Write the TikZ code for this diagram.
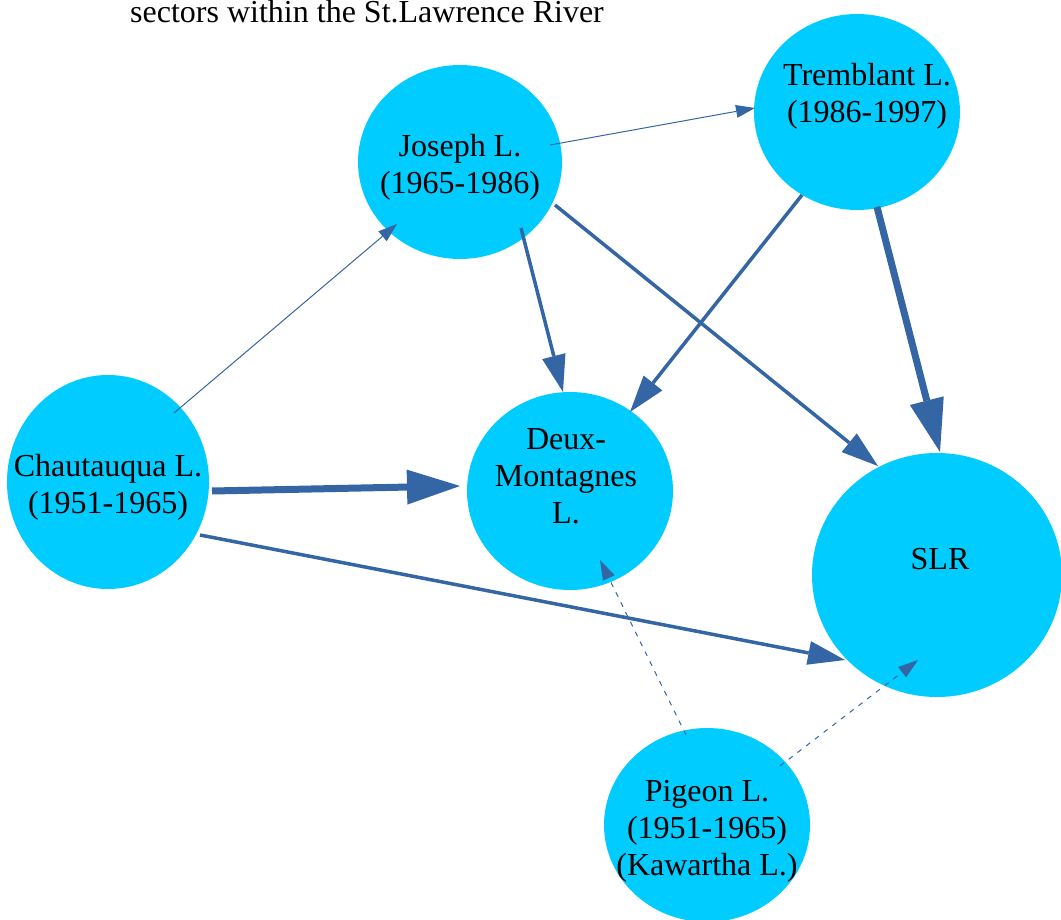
\documentclass[tikz,border=0pt]{standalone}
\usepackage{fontspec}
\setmainfont{Liberation Serif}
\usetikzlibrary{arrows.meta,calc,shapes.geometric}
\definecolor{bubblecol}{HTML}{00CCFF}
\definecolor{arrowblue}{HTML}{3465A4}
\begin{document}
\begin{tikzpicture}[x=1pt,y=-1pt,
  bubble/.style={ellipse, fill=bubblecol, draw=none, inner sep=0pt},
  lbl/.style={font=\fontsize{32}{37}\selectfont, align=center, text=black, inner sep=0pt},
  thinarrow/.style={draw=arrowblue, line width=1pt, -{Triangle[length=19pt,width=13pt,line width=0pt]}},
  midarrow/.style={draw=arrowblue, line width=3.5pt, -{Triangle[length=37pt,width=24pt,line width=0pt]}},
  thickarrow/.style={draw=arrowblue, line width=7pt, -{Triangle[length=53pt,width=35pt,line width=0pt]}},
  dasharrow/.style={draw=arrowblue, line width=1pt, dash pattern=on 5pt off 6pt, -{Triangle[length=20pt,width=13pt,line width=0pt]}}]
\useasboundingbox (0,0) rectangle (1061,920);

\node[lbl, anchor=base west] (title) at (130,23) {sectors within the St.Lawrence River};

\node[bubble, minimum width=204pt, minimum height=194pt] (joseph) at (460,162) {};
\node[bubble, minimum width=206pt, minimum height=196pt] (tremblant) at (857,112) {};
\node[bubble, minimum width=202pt, minimum height=214pt] (chaut) at (108,482) {};
\node[bubble, minimum width=206pt, minimum height=198pt] (deux) at (570,491) {};
\node[bubble, minimum width=250pt, minimum height=244pt] (slr) at (937,575) {};
\node[bubble, minimum width=206pt, minimum height=194pt] (pigeon) at (707,825) {};

\node[lbl] (josephT) at (460,167) {Joseph L.\\(1965-1986)};
\node[lbl] (tremblantT) at (867,96) {Tremblant L.\\(1986-1997)};
\node[lbl] (chautT) at (108,487) {Chautauqua L.\\(1951-1965)};
\node[lbl] (deuxT) at (566,476) {Deux-\\Montagnes\\L.};
\node[lbl] (slrT) at (940,559) {SLR};
\node[lbl] (pigeonT) at (707,831) {Pigeon L.\\(1951-1965)\\(Kawartha L.)};

\draw[thinarrow] ($(joseph)+(90,-17)$) -- ($(tremblant)+(-102,-4)$);
\draw[thinarrow] ($(chaut)+(66,-69)$) -- ($(joseph)+(-63,62)$);
\draw[thickarrow] ($(chaut)+(104,9)$) -- ($(deux)+(-110,-5)$);
\draw[midarrow] ($(chaut)+(92,53)$) -- ($(slr)+(-92,85)$);
\draw[midarrow] ($(joseph)+(61,66)$) -- ($(deux)+(-7,-99)$);
\draw[midarrow] ($(joseph)+(95,43)$) -- ($(slr)+(-59,-109)$);
\draw[midarrow] ($(tremblant)+(-55,83)$) -- ($(deux)+(60,-79)$);
\draw[thickarrow] ($(tremblant)+(20,95)$) -- ($(slr)+(3,-123)$);
\draw[dasharrow] ($(pigeon)+(-21,-90)$) -- ($(deux)+(30,69)$);
\draw[dasharrow] ($(pigeon)+(73,-59)$) -- ($(slr)+(-19,85)$);
\end{tikzpicture}
\end{document}
